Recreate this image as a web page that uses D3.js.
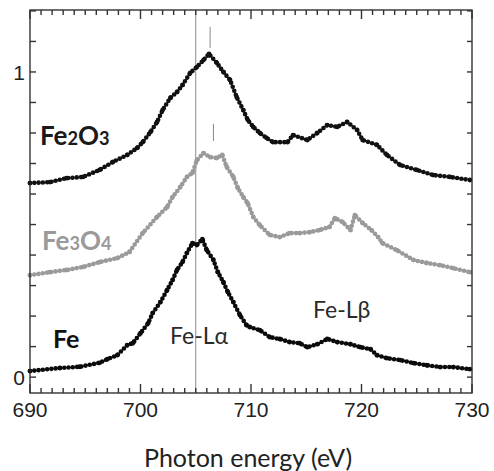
<!DOCTYPE html>
<html>
<head>
<meta charset="utf-8">
<script src="https://cdn.jsdelivr.net/npm/d3@7"></script>
<style>
  body { margin: 0; background: #fff; }
</style>
</head>
<body>
<script>
// photon energy (eV) and normalised intensity
var fe2o3E = [690.0, 691.8, 693.3, 694.8, 696.3, 697.5, 698.8, 699.7, 700.2, 700.9, 701.5, 702.0, 702.7, 703.3, 703.8, 704.5, 705.1, 705.7, 706.2, 706.9, 707.5, 708.1, 708.7, 709.3, 709.7, 710.2, 710.8, 711.4, 712.0, 713.3, 713.8, 715.1, 716.0, 716.9, 717.8, 718.7, 719.6, 720.1, 721.4, 722.3, 723.5, 725.0, 726.5, 728.0, 729.8];
var fe2o3V = [0.636, 0.639, 0.652, 0.656, 0.679, 0.705, 0.728, 0.751, 0.770, 0.803, 0.836, 0.875, 0.915, 0.934, 0.957, 0.997, 1.016, 1.039, 1.059, 1.030, 1.000, 0.974, 0.918, 0.875, 0.843, 0.820, 0.800, 0.784, 0.770, 0.770, 0.793, 0.777, 0.800, 0.826, 0.820, 0.836, 0.810, 0.777, 0.761, 0.728, 0.695, 0.679, 0.662, 0.656, 0.646];

var fe3o4E = [690.0, 691.8, 693.3, 694.8, 696.3, 697.9, 699.0, 700.2, 701.5, 702.4, 702.9, 703.6, 704.2, 704.7, 705.1, 705.7, 706.3, 706.9, 707.4, 707.8, 708.4, 708.8, 709.3, 709.7, 710.2, 710.8, 711.7, 712.6, 713.5, 714.4, 715.3, 716.2, 717.1, 717.6, 718.3, 719.0, 719.4, 720.1, 720.9, 721.5, 721.9, 723.2, 724.7, 725.9, 727.1, 728.3, 729.8];
var fe3o4V = [0.334, 0.344, 0.351, 0.361, 0.377, 0.390, 0.410, 0.472, 0.525, 0.557, 0.590, 0.623, 0.656, 0.669, 0.711, 0.734, 0.721, 0.718, 0.728, 0.689, 0.656, 0.620, 0.590, 0.570, 0.525, 0.498, 0.466, 0.459, 0.472, 0.472, 0.475, 0.482, 0.492, 0.521, 0.508, 0.482, 0.531, 0.505, 0.482, 0.459, 0.439, 0.416, 0.384, 0.374, 0.367, 0.357, 0.344];

var feE = [690.0, 692.7, 694.5, 696.3, 697.0, 697.9, 698.8, 699.3, 700.0, 700.7, 701.1, 701.8, 702.4, 702.9, 703.3, 703.8, 704.2, 704.7, 705.1, 705.6, 706.0, 706.6, 707.0, 707.5, 707.9, 708.4, 709.0, 709.6, 709.9, 710.8, 711.7, 712.6, 713.5, 714.4, 715.1, 716.0, 716.9, 717.8, 719.0, 719.9, 720.8, 721.4, 722.3, 723.5, 724.7, 725.9, 727.1, 728.3, 729.8];
var feV = [0.020, 0.030, 0.034, 0.047, 0.059, 0.072, 0.105, 0.111, 0.144, 0.177, 0.210, 0.246, 0.285, 0.318, 0.351, 0.377, 0.407, 0.439, 0.433, 0.452, 0.416, 0.384, 0.344, 0.311, 0.279, 0.246, 0.203, 0.170, 0.164, 0.154, 0.131, 0.125, 0.115, 0.111, 0.098, 0.108, 0.125, 0.115, 0.108, 0.098, 0.092, 0.072, 0.062, 0.056, 0.046, 0.039, 0.033, 0.033, 0.026];

var xTickLabels = [690, 700, 710, 720, 730];
var yTickLabels = [0, 1];
var lineLa = 705;          // Fe-L alpha reference line
var peakE = [706.3, 706.6]; // small peak markers
var peakTop = [1.148, 0.830];
var peakBottom = [1.079, 0.774];

var width = 494,
    height = 471;

var svg = d3.select("body")
    .append("svg")
    .attr("width", width)
    .attr("height", height);

var x = d3.scaleLinear().domain([690, 730]).range([30, 472]);
var y = d3.scaleLinear().domain([-0.052, 1.203]).range([393, 10]);

var axisColor = "#222";
var labelFont = "Lato, 'Open Sans', sans-serif";
var numFont = "'Liberation Sans', Arial, sans-serif";

var x0 = x.range()[0], x1 = x.range()[1],
    yb = y.range()[0], yt = y.range()[1];

//reference line at Fe-La
svg.append("line")
    .attr("x1", x(lineLa)).attr("x2", x(lineLa))
    .attr("y1", yt).attr("y2", yb)
    .attr("stroke", "#8a8a8a")
    .attr("stroke-width", 1);

//peak markers
svg.selectAll(".peak")
    .data(peakE)
    .enter()
    .append("line")
    .attr("class", "peak")
    .attr("x1", function(d){ return x(d); })
    .attr("x2", function(d){ return x(d); })
    .attr("y1", function(d, i){ return y(peakTop[i]); })
    .attr("y2", function(d, i){ return y(peakBottom[i]); })
    .attr("stroke", "#888")
    .attr("stroke-width", 1);

//series
var series = [
    {E: fe2o3E, V: fe2o3V, color: "#111"},
    {E: fe3o4E, V: fe3o4V, color: "#9a9a9a"},
    {E: feE, V: feV, color: "#0a0a0a"}
];

var line = d3.line()
    .x(function(d){ return x(d[0]); })
    .y(function(d){ return y(d[1]); });

series.forEach(function(s){
    var pts = s.E.map(function(e, i){ return [e, s.V[i]]; });
    svg.append("path")
        .datum(pts)
        .attr("d", line)
        .attr("fill", "none")
        .attr("stroke", s.color)
        .attr("stroke-width", 4.6)
        .attr("stroke-linecap", "round")
        .attr("stroke-dasharray", "0 4.3");
    svg.selectAll(null)
        .data(pts)
        .enter()
        .append("circle")
        .attr("cx", function(d){ return x(d[0]); })
        .attr("cy", function(d){ return y(d[1]); })
        .attr("r", 2.4)
        .attr("fill", s.color);
});

//frame
svg.append("rect")
    .attr("x", x0).attr("y", yt)
    .attr("width", x1 - x0).attr("height", yb - yt)
    .attr("fill", "none")
    .attr("stroke", axisColor)
    .attr("stroke-width", 1.3);

//ticks, all pointing inward
var xMinor = d3.range(690, 731, 1);
var yMinor = d3.range(0, 12.5, 1).map(function(d){ return d / 10; });
var ticks = svg.append("g")
    .attr("stroke", "#333")
    .attr("stroke-width", 1.4);

function xLen(d){ return d % 10 === 0 ? 9 : 5; }

ticks.selectAll(".xb").data(xMinor).enter().append("line")
    .attr("x1", function(d){ return x(d); }).attr("x2", function(d){ return x(d); })
    .attr("y1", yb).attr("y2", function(d){ return yb - xLen(d); });
ticks.selectAll(".xt").data(xMinor).enter().append("line")
    .attr("x1", function(d){ return x(d); }).attr("x2", function(d){ return x(d); })
    .attr("y1", yt).attr("y2", function(d){ return yt + xLen(d); });
ticks.selectAll(".yl").data(yMinor).enter().append("line")
    .attr("x1", x0).attr("x2", x0 + 6)
    .attr("y1", function(d){ return y(d); }).attr("y2", function(d){ return y(d); });
ticks.selectAll(".yr").data(yMinor).enter().append("line")
    .attr("x1", x1).attr("x2", x1 - 5)
    .attr("y1", function(d){ return y(d); }).attr("y2", function(d){ return y(d); });

//tick labels
svg.selectAll(".xlab").data(xTickLabels).enter().append("text")
    .attr("x", function(d){ return x(d); })
    .attr("y", 417)
    .attr("text-anchor", "middle")
    .attr("fill", "#222")
    .style("font-family", numFont)
    .style("font-size", "21px")
    .text(function(d){ return d; });
svg.selectAll(".ylab").data(yTickLabels).enter().append("text")
    .attr("x", x0 - 5)
    .attr("y", function(d){ return y(d); })
    .attr("dy", "0.36em")
    .attr("text-anchor", "end")
    .attr("fill", "#222")
    .style("font-family", numFont)
    .style("font-size", "21px")
    .text(function(d){ return d; });

//axis title
svg.append("text")
    .attr("x", 248).attr("y", 467)
    .attr("text-anchor", "middle")
    .style("font-family", labelFont)
    .style("font-size", "25px")
    .attr("fill", "#222")
    .text("Photon energy (eV)");

//compound labels
function formula(xp, yp, parts, color, size){
    var t = svg.append("text")
        .attr("x", xp).attr("y", yp)
        .attr("fill", color)
        .style("font-family", labelFont)
        .style("font-weight", "700");
    parts.forEach(function(p){
        t.append("tspan")
            .style("font-size", (p.sub ? size * 0.7 : size) + "px")
            .text(p.s);
    });
}
formula(40, 145, [{s: "Fe"}, {s: "2", sub: true}, {s: "O"}, {s: "3", sub: true}], "#1a1a1a", 26);
formula(42, 250, [{s: "Fe"}, {s: "3", sub: true}, {s: "O"}, {s: "4", sub: true}], "#9a9a9a", 26);
formula(53, 348, [{s: "Fe"}], "#111", 25);

//line labels
svg.append("text")
    .attr("x", 170).attr("y", 344)
    .attr("fill", "#2a2a2a")
    .style("font-family", labelFont)
    .style("font-size", "23px")
    .text("Fe-L\u03b1");
svg.append("text")
    .attr("x", 313).attr("y", 318)
    .attr("fill", "#2a2a2a")
    .style("font-family", labelFont)
    .style("font-size", "23px")
    .text("Fe-L\u03b2");
</script>
</body>
</html>
